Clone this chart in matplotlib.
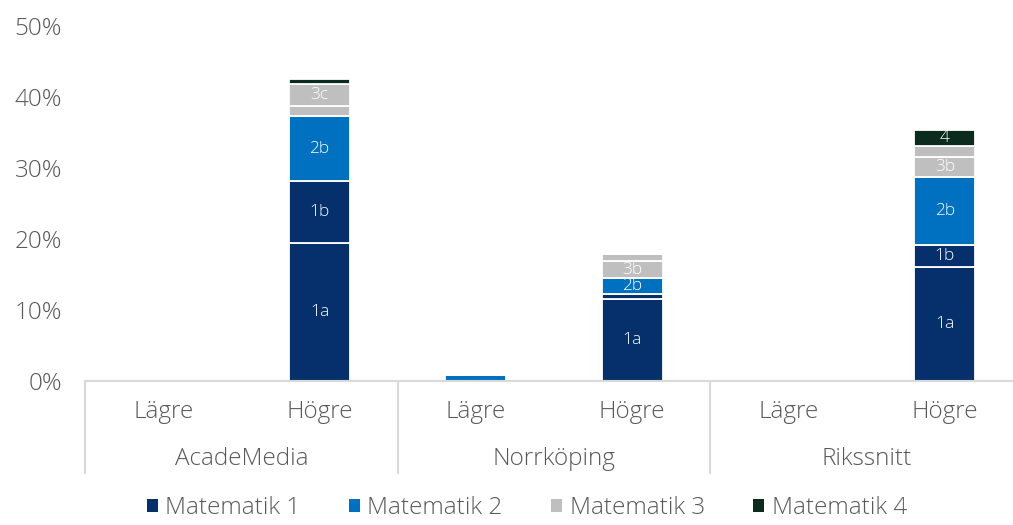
import matplotlib
matplotlib.use("Agg")
import matplotlib.pyplot as plt
from matplotlib.lines import Line2D
from matplotlib.patches import Patch
import numpy as np

# ---- data ----
groups = ["AcadeMedia", "Norrköping", "Rikssnitt"]
subcats = ["Lägre", "Högre"]
seg_names = ["1a", "1b", "2b", "3b", "3c", "4"]
seg_series = ["Matematik 1", "Matematik 1", "Matematik 2", "Matematik 3", "Matematik 3", "Matematik 4"]
# order of x positions: AcadeMedia Lägre, Högre, Norrköping Lägre, Högre, Rikssnitt Lägre, Högre
v_1a = [0, 19.5, 0, 11.5, 0, 16.0]
v_1b = [0, 8.6, 0, 0.75, 0, 3.1]
v_2b = [0, 9.25, 0.85, 2.2, 0, 9.6]
v_3b = [0, 1.45, 0, 2.5, 0, 2.8]
v_3c = [0, 3.1, 0, 0.9, 0, 1.6]
v_4 = [0, 0.7, 0, 0, 0, 2.2]
seg_values = [v_1a, v_1b, v_2b, v_3b, v_3c, v_4]
series = ["Matematik 1", "Matematik 2", "Matematik 3", "Matematik 4"]
colors = {"Matematik 1": "#06306b", "Matematik 2": "#0070c0",
          "Matematik 3": "#bfbfbf", "Matematik 4": "#0c2b1f"}
yticks = [0, 10, 20, 30, 40, 50]

FONT = ["Open Sans", "DejaVu Sans"]
plt.rcParams["font.family"] = FONT
TXT = "#595959"
FS = 17.5
WT = "light"

W, H = 1013, 525
fig = plt.figure(figsize=(W / 100, H / 100), dpi=100)
left_px, right_px = 85, 1023
bottom_px, top_px = 381, 26
ax = fig.add_axes([left_px / W, 1 - bottom_px / H, (right_px - left_px) / W,
                   (bottom_px - top_px) / H])

n = len(groups) * len(subcats)
x = np.arange(n)
bottom = np.zeros(n)
for name, ser, vals in zip(seg_names, seg_series, seg_values):
    vals = np.array(vals, dtype=float)
    ax.bar(x, vals, width=0.39, bottom=bottom, color=colors[ser],
           edgecolor="white", linewidth=1.3)
    for xi, b, v in zip(x, bottom, vals):
        if v >= 2.0:
            ax.text(xi, b + v / 2, name, ha="center", va="center",
                    color="white", fontsize=12.5, fontweight=WT)
    bottom += vals

ax.set_xlim(-0.5, n - 0.5)
ax.set_ylim(0, 50)
ax.set_yticks(yticks)
ax.set_yticklabels([f"{t}%" for t in yticks], fontsize=FS, color=TXT,
                   fontweight=WT)
ax.tick_params(axis="y", length=0, pad=16.5)
ax.set_xticks([])
for s in ["top", "right", "left"]:
    ax.spines[s].set_visible(False)
ax.spines["bottom"].set_color("#d9d9d9")
ax.spines["bottom"].set_linewidth(1.5)

trans = ax.get_xaxis_transform()
sub_y = -(412 - bottom_px) / (bottom_px - top_px)
grp_y = -(459 - bottom_px) / (bottom_px - top_px)
for i in range(n):
    ax.text(x[i], sub_y, subcats[i % 2], transform=trans, ha="center",
            va="center", fontsize=FS, color=TXT, fontweight=WT)
for g, name in enumerate(groups):
    ax.text(2 * g + 0.5, grp_y, name, transform=trans, ha="center",
            va="center", fontsize=FS, color=TXT, fontweight=WT)
sep_bottom = -(473 - bottom_px) / (bottom_px - top_px)
for g in range(len(groups) + 1):
    ax.add_line(Line2D([2 * g - 0.5, 2 * g - 0.5], [0, sep_bottom], transform=trans,
                       color="#d9d9d9", linewidth=1.5, clip_on=False))

handles = [Patch(facecolor=colors[s], edgecolor="none") for s in series]
fig.legend(handles, series, loc="center", bbox_to_anchor=(527 / W, 1 - 508 / H),
           ncol=4, frameon=False, handlelength=0.45, handleheight=0.45,
           handletextpad=0.3, columnspacing=2.0, labelcolor=TXT,
           prop={"family": FONT, "weight": WT, "size": FS})

fig.savefig("out.png", dpi=100)
